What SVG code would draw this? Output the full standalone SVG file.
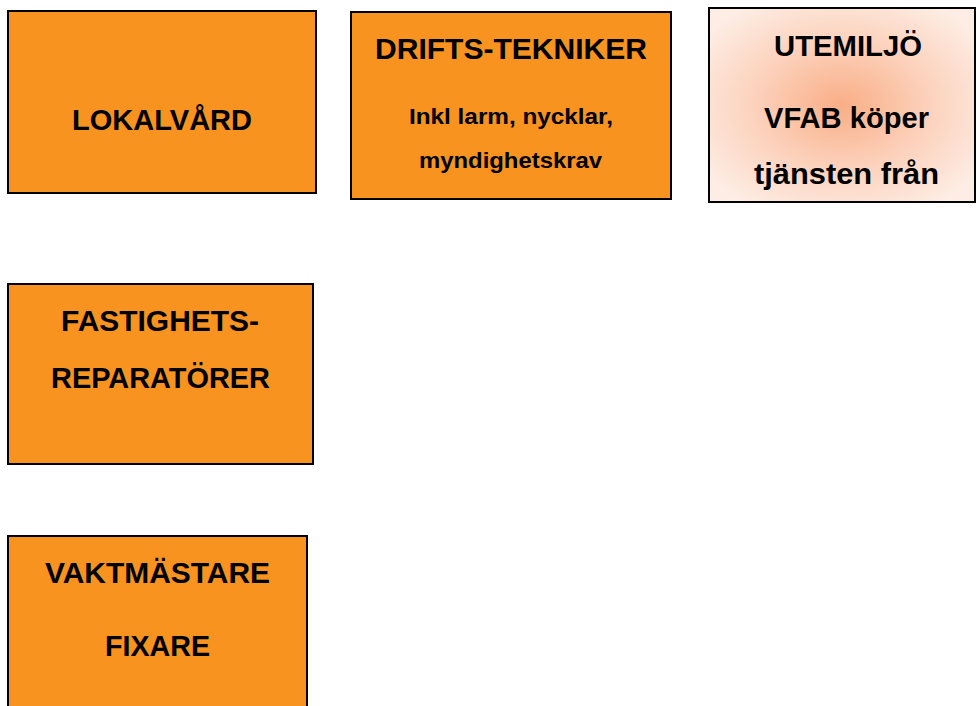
<svg xmlns="http://www.w3.org/2000/svg" width="976" height="706" viewBox="0 0 976 706">
<defs>
<radialGradient id="g" cx="0.5" cy="0.5" r="0.62">
<stop offset="0" stop-color="#F9AE86"/>
<stop offset="0.55" stop-color="#FCD3BE"/>
<stop offset="1" stop-color="#FDEDE4"/>
</radialGradient>
<style>
.box{fill:#F7931E;stroke:#000;stroke-width:2}
.lt{fill:url(#g);stroke:#000;stroke-width:2}
text{font-family:"Liberation Sans",Arial,sans-serif;font-weight:bold;fill:#000;text-anchor:middle}
.b{font-size:29px}
.s{font-size:22px}
</style>
</defs>
<rect width="976" height="706" fill="#fff"/>
<g id="lokalvard">
<rect class="box" x="8" y="11" width="308" height="182"/>
<text class="b" x="162" y="130" textLength="180" lengthAdjust="spacingAndGlyphs">LOKALVÅRD</text>
</g>
<g id="driftstekniker">
<rect class="box" x="351" y="12" width="320" height="187"/>
<text class="b" x="511" y="59" textLength="272" lengthAdjust="spacingAndGlyphs">DRIFTS-TEKNIKER</text>
<text class="s" x="511" y="124" textLength="204" lengthAdjust="spacingAndGlyphs">Inkl larm, nycklar,</text>
<text class="s" x="510.5" y="168" textLength="183" lengthAdjust="spacingAndGlyphs">myndighetskrav</text>
</g>
<g id="utemiljo">
<rect class="lt" x="709" y="8" width="266" height="194"/>
<text class="b" x="848" y="56" textLength="148" lengthAdjust="spacingAndGlyphs">UTEMILJÖ</text>
<text class="b" x="846.5" y="128" textLength="165" lengthAdjust="spacingAndGlyphs">VFAB köper</text>
<text class="b" x="846.5" y="184" textLength="185" lengthAdjust="spacingAndGlyphs">tjänsten från</text>
</g>
<g id="fastighetsreparatorer">
<rect class="box" x="8" y="284" width="305" height="180"/>
<text class="b" x="160" y="331" textLength="198" lengthAdjust="spacingAndGlyphs">FASTIGHETS-</text>
<text class="b" x="160.5" y="388" textLength="219" lengthAdjust="spacingAndGlyphs">REPARATÖRER</text>
</g>
<g id="vaktmastare">
<rect class="box" x="8" y="536" width="299" height="180"/>
<text class="b" x="157.5" y="583" textLength="225" lengthAdjust="spacingAndGlyphs">VAKTMÄSTARE</text>
<text class="b" x="157.5" y="656" textLength="105" lengthAdjust="spacingAndGlyphs">FIXARE</text>
</g>
<g id="connectors"></g>
</svg>
